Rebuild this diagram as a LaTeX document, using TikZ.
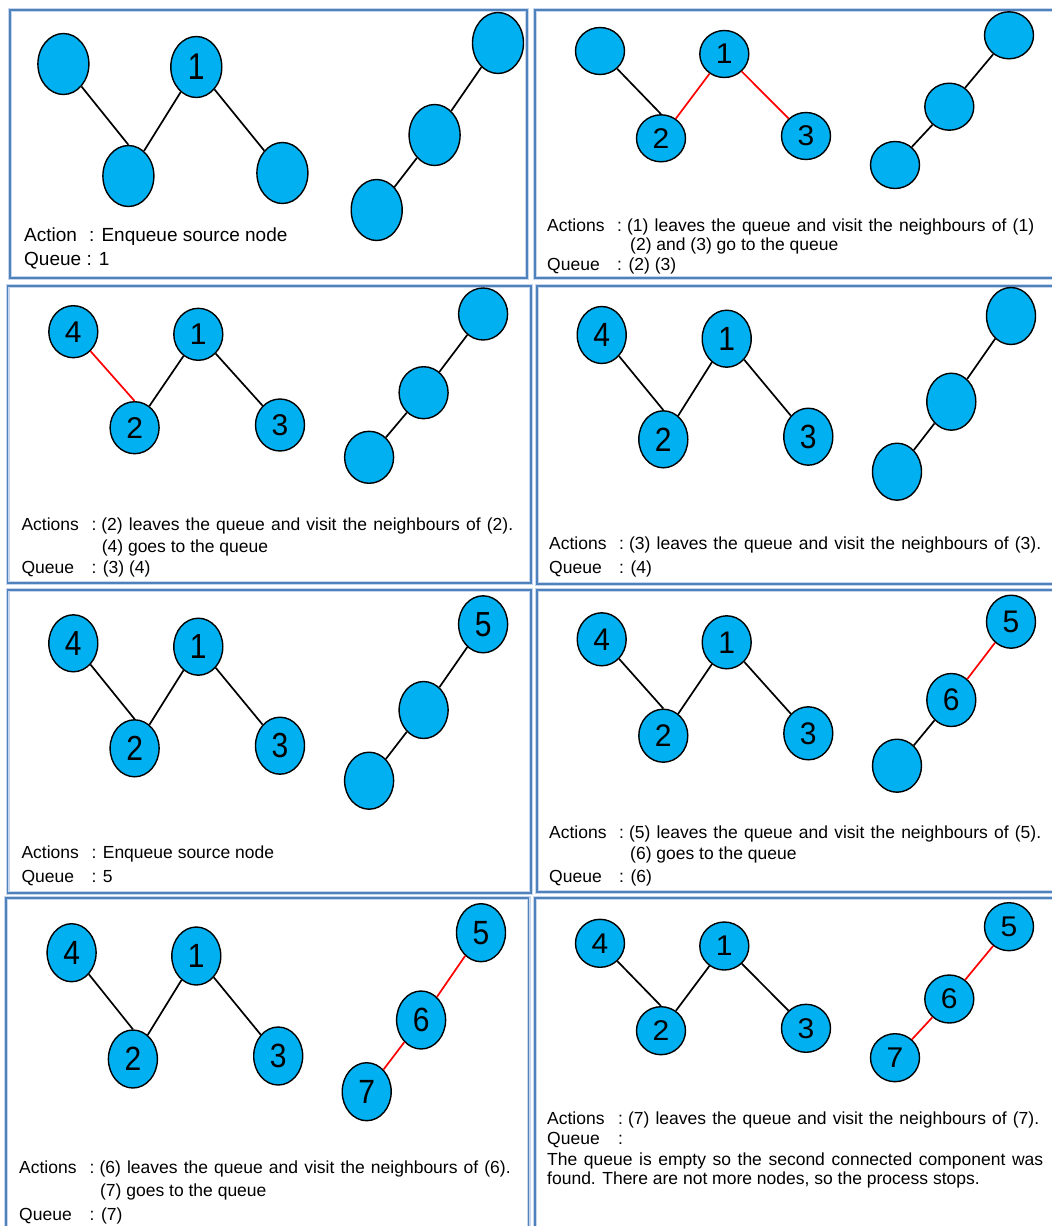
\documentclass[tikz,border=0pt]{standalone}
\usepackage{fontspec}
\usepackage{graphicx}
\usepackage{tikz}
\usetikzlibrary{shapes.geometric}
\setmainfont{Liberation Sans}
\definecolor{frameBlue}{HTML}{4F81BD}
\definecolor{frameHalo}{HTML}{C6D6EC}
\definecolor{vxBlue}{HTML}{00B0F0}
% digits in the vertices follow the height of the ellipse
\newcommand{\vstretch}{1}
\newcommand{\vlab}[1]{\scalebox{1}[\vstretch]{#1}}

\begin{document}
\begin{tikzpicture}[x=1pt, y=-1pt,
        frame/.style={draw=frameBlue, line width=1.5pt,
            preaction={draw=frameHalo, line width=4pt}},
        vx/.style={ellipse, draw, line width=1.4pt, fill=vxBlue, inner sep=0pt,
            font=\fontsize{30}{30}\selectfont},
        ed/.style={line width=1.7pt},
        hot/.style={ed, draw=red},
        txt/.style={anchor=base west, inner sep=0pt, font=\fontsize{17.5}{20}\selectfont}]
    \useasboundingbox (0,0) rectangle (1052,1226);

    % frames of the eight steps
    \draw[frame] (10,10) rectangle (527,278);
    \draw[frame] (535,10) rectangle (1058,278);
    \draw[frame] (7.5,286) rectangle (531,583);
    \draw[frame] (537,286) rectangle (1058,584);
    \draw[frame] (7.5,590) rectangle (531,893);
    \draw[frame] (537,590) rectangle (1058,892);
    \draw[frame] (6,898) rectangle (528.5,1232);
    \draw[frame] (535,898) rectangle (1058,1232);

    % step 1
    \begin{scope}[vx/.append style={minimum width=51pt, minimum height=61pt}]
        \renewcommand{\vstretch}{1.24}
        \node[vx] (s1v4) at (63.4,64) {};
        \node[vx] (s1v1) at (196.3,67) {\vlab{1}};
        \node[vx] (s1v2) at (128.4,176) {};
        \node[vx] (s1v3) at (282.4,173) {};
        \node[vx] (s1v5) at (498,43) {};
        \node[vx] (s1v6) at (434.6,135) {};
        \node[vx] (s1v7) at (376.7,210) {};
        \draw[ed] (s1v4) -- (s1v2.north) (s1v2) -- (s1v1) (s1v1) -- (s1v3);
        \draw[ed] (s1v7) -- (s1v6) (s1v6) -- (s1v5);
        \node[txt, font=\fontsize{19}{22}\selectfont] (s1act) at (24,241) {Action};
        \node[txt, font=\fontsize{19}{22}\selectfont] (s1actt) at (89,241) {: Enqueue source node};
        \node[txt, font=\fontsize{19}{22}\selectfont] (s1que) at (24,265) {Queue : 1};
    \end{scope}

    % step 2
    \begin{scope}[vx/.append style={minimum width=49pt, minimum height=47pt}]
        \renewcommand{\vstretch}{0.95}
        \node[vx] (s2v4) at (600,51) {};
        \node[vx] (s2v1) at (724.3,54) {\vlab{1}};
        \node[vx] (s2v2) at (661,138.3) {\vlab{2}};
        \node[vx] (s2v3) at (806,136) {\vlab{3}};
        \node[vx] (s2v5) at (1009,35.3) {};
        \node[vx] (s2v6) at (949.3,106.7) {};
        \node[vx] (s2v7) at (895,165) {};
        \draw[ed] (s2v4) -- (s2v2.north);
        \draw[hot] (s2v2) -- (s2v1) (s2v1) -- (s2v3);
        \draw[ed] (s2v7) -- (s2v6) (s2v6) -- (s2v5);
        \node[txt] (s2act) at (547,231) {Actions};
        \node[txt] (s2actt) at (617,231) {\makebox[417pt][s]{:\kern5pt(1) leaves the queue and visit the neighbours of (1)}};
        \node[txt] (s2actu) at (630,250) {(2) and (3) go to the queue};
        \node[txt] (s2que) at (547,270) {Queue};
        \node[txt] (s2quet) at (617,270) {: (2) (3)};
    \end{scope}

    % step 3
    \begin{scope}[vx/.append style={minimum width=49pt, minimum height=52pt}]
        \renewcommand{\vstretch}{1.0}
        \node[vx] (s3v4) at (73.3,331.7) {\vlab{4}};
        \node[vx] (s3v1) at (198.3,334.3) {\vlab{1}};
        \node[vx] (s3v2) at (134.6,427.7) {\vlab{2}};
        \node[vx] (s3v3) at (280,425) {\vlab{3}};
        \node[vx] (s3v5) at (483.1,314) {};
        \node[vx] (s3v6) at (423.6,392.7) {};
        \node[vx] (s3v7) at (369.1,457.3) {};
        \draw[hot] (s3v4) -- (s3v2.north);
        \draw[ed] (s3v2) -- (s3v1) (s3v1) -- (s3v3);
        \draw[ed] (s3v7) -- (s3v6) (s3v6) -- (s3v5);
        \node[txt] (s3act) at (21.3,530) {Actions};
        \node[txt] (s3actt) at (91.3,530) {\makebox[421.7pt][s]{:\kern5pt(2) leaves the queue and visit the neighbours of (2).}};
        \node[txt] (s3actu) at (101.6,552) {(4) goes to the queue};
        \node[txt] (s3que) at (21.3,573) {Queue};
        \node[txt] (s3quet) at (91.3,573) {: (3) (4)};
    \end{scope}

    % step 4
    \begin{scope}[vx/.append style={minimum width=49pt, minimum height=57pt}]
        \renewcommand{\vstretch}{1.12}
        \node[vx] (s4v4) at (601.7,335) {\vlab{4}};
        \node[vx] (s4v1) at (726.7,338.7) {\vlab{1}};
        \node[vx] (s4v2) at (663.3,439.3) {\vlab{2}};
        \node[vx] (s4v3) at (808.3,436.7) {\vlab{3}};
        \node[vx] (s4v5) at (1011,316) {};
        \node[vx] (s4v6) at (951.3,401.7) {};
        \node[vx] (s4v7) at (897,471.7) {};
        \draw[ed] (s4v4) -- (s4v2.north) (s4v2) -- (s4v1) (s4v1) -- (s4v3);
        \draw[ed] (s4v7) -- (s4v6) (s4v6) -- (s4v5);
        \node[txt] (s4act) at (549,549) {Actions};
        \node[txt] (s4actt) at (619,549) {\makebox[422pt][s]{:\kern5pt(3) leaves the queue and visit the neighbours of (3).}};
        \node[txt] (s4que) at (549,573) {Queue};
        \node[txt] (s4quet) at (619,573) {: (4)};
    \end{scope}

    % step 5
    \begin{scope}[vx/.append style={minimum width=49pt, minimum height=57pt}]
        \renewcommand{\vstretch}{1.16}
        \node[vx] (s5v4) at (73.3,643.3) {\vlab{4}};
        \node[vx] (s5v1) at (198.3,646.7) {\vlab{1}};
        \node[vx] (s5v2) at (134.6,748.3) {\vlab{2}};
        \node[vx] (s5v3) at (280,745.7) {\vlab{3}};
        \node[vx] (s5v5) at (483.1,624.3) {\vlab{5}};
        \node[vx] (s5v6) at (423.6,710) {};
        \node[vx] (s5v7) at (369.1,780.7) {};
        \draw[ed] (s5v4) -- (s5v2.north) (s5v2) -- (s5v1) (s5v1) -- (s5v3);
        \draw[ed] (s5v7) -- (s5v6) (s5v6) -- (s5v5);
        \node[txt] (s5act) at (21.3,858) {Actions};
        \node[txt] (s5actt) at (91.3,858) {: Enqueue source node};
        \node[txt] (s5que) at (21.3,882) {Queue};
        \node[txt] (s5quet) at (91.3,882) {: 5};
    \end{scope}

    % step 6
    \begin{scope}[vx/.append style={minimum width=49pt, minimum height=53pt}]
        \renewcommand{\vstretch}{1.04}
        \node[vx] (s6v4) at (601.7,639.3) {\vlab{4}};
        \node[vx] (s6v1) at (726.7,642.3) {\vlab{1}};
        \node[vx] (s6v2) at (663.3,735.7) {\vlab{2}};
        \node[vx] (s6v3) at (808.3,733.3) {\vlab{3}};
        \node[vx] (s6v5) at (1011,621.7) {\vlab{5}};
        \node[vx] (s6v6) at (951.3,700) {\vlab{6}};
        \node[vx] (s6v7) at (897,765.7) {};
        \draw[ed] (s6v4) -- (s6v2.north) (s6v2) -- (s6v1) (s6v1) -- (s6v3);
        \draw[ed] (s6v7) -- (s6v6);
        \draw[hot] (s6v6) -- (s6v5);
        \node[txt] (s6act) at (549,838) {Actions};
        \node[txt] (s6actt) at (619,838) {\makebox[422pt][s]{:\kern5pt(5) leaves the queue and visit the neighbours of (5).}};
        \node[txt] (s6actu) at (630,859) {(6) goes to the queue};
        \node[txt] (s6que) at (549,882) {Queue};
        \node[txt] (s6quet) at (619,882) {: (6)};
    \end{scope}

    % step 7
    \begin{scope}[vx/.append style={minimum width=49pt, minimum height=58pt}]
        \renewcommand{\vstretch}{1.12}
        \node[vx] (s7v4) at (71.6,952.7) {\vlab{4}};
        \node[vx] (s7v1) at (196.3,956) {\vlab{1}};
        \node[vx] (s7v2) at (132.9,1059) {\vlab{2}};
        \node[vx] (s7v3) at (278.2,1056) {\vlab{3}};
        \node[vx] (s7v5) at (481,932.7) {\vlab{5}};
        \node[vx] (s7v6) at (421.1,1020) {\vlab{6}};
        \node[vx] (s7v7) at (366.7,1091.7) {\vlab{7}};
        \draw[ed] (s7v4) -- (s7v2.north) (s7v2) -- (s7v1) (s7v1) -- (s7v3);
        \draw[hot] (s7v7) -- (s7v6) (s7v6) -- (s7v5);
        \node[txt] (s7act) at (19,1173) {Actions};
        \node[txt] (s7actt) at (89.5,1173) {\makebox[421pt][s]{:\kern5pt(6) leaves the queue and visit the neighbours of (6).}};
        \node[txt] (s7actu) at (99.9,1196) {(7) goes to the queue};
        \node[txt] (s7que) at (19,1220) {Queue};
        \node[txt] (s7quet) at (89.5,1220) {: (7)};
    \end{scope}

    % step 8
    \begin{scope}[vx/.append style={minimum width=49pt, minimum height=48pt}]
        \renewcommand{\vstretch}{0.95}
        \node[vx] (s8v4) at (600,943.3) {\vlab{4}};
        \node[vx] (s8v1) at (724.3,946) {\vlab{1}};
        \node[vx] (s8v2) at (661,1030.7) {\vlab{2}};
        \node[vx] (s8v3) at (806,1028.3) {\vlab{3}};
        \node[vx] (s8v5) at (1009,926.7) {\vlab{5}};
        \node[vx] (s8v6) at (949.3,999) {\vlab{6}};
        \node[vx] (s8v7) at (895,1057.7) {\vlab{7}};
        \draw[ed] (s8v4) -- (s8v2.north) (s8v2) -- (s8v1) (s8v1) -- (s8v3);
        \draw[hot] (s8v7) -- (s8v6) (s8v6) -- (s8v5);
        \node[txt] (s8act) at (547,1124) {Actions};
        \node[txt] (s8actt) at (618,1124) {\makebox[421pt][s]{:\kern5pt(7) leaves the queue and visit the neighbours of (7).}};
        \node[txt] (s8que) at (547,1144) {Queue};
        \node[txt] (s8quet) at (618,1144) {:};
        \node[txt] (s8end) at (547,1165) {\makebox[496pt][s]{The queue is empty so the second connected component was}};
        \node[txt] (s8endu) at (547,1184) {found. There are not more nodes, so the process stops.};
    \end{scope}
\end{tikzpicture}
\end{document}
